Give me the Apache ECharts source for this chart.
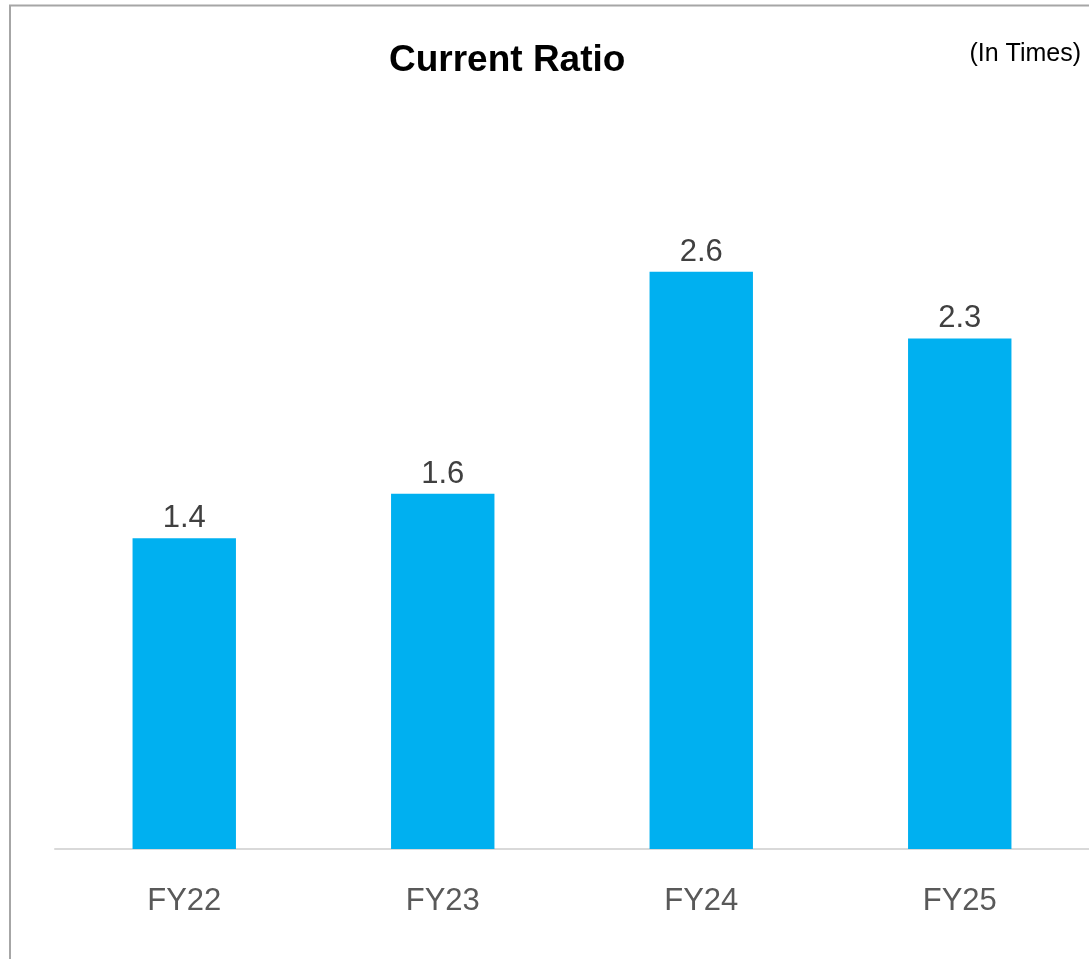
<!DOCTYPE html>
<html>
<head>
<meta charset="utf-8">
<script src="https://cdn.jsdelivr.net/npm/echarts@6/dist/echarts.min.js"></script>
<style>
  html, body { margin: 0; padding: 0; background: #fff; }
  #chart { width: 1089px; height: 959px; }
</style>
</head>
<body>
<div id="chart"></div>
<script>
// 数据
const years = ['FY22', 'FY23', 'FY24', 'FY25']
const ratios = [1.4, 1.6, 2.6, 2.3]
const titleText = 'Current Ratio'
const unitText = '(In Times)'

const chart = echarts.init(document.getElementById('chart'))
const option = {
  animation: false,
  textStyle: {
    fontFamily: '"Liberation Sans", Arial, sans-serif'
  },
  title: {
    text: titleText,
    left: 389,
    top: 42,
    padding: 0,
    textStyle: {
      color: '#000',
      fontWeight: 'bold',
      fontSize: 37,
      fontFamily: '"Liberation Sans", Arial, sans-serif'
    }
  },
  graphic: [
    {
      // 外框
      type: 'polyline',
      shape: { points: [[10, 959], [10, 5.5], [1089, 5.5]] },
      style: { stroke: '#a6a6a6', lineWidth: 2, fill: null }
    },
    {
      type: 'text',
      right: 8,
      top: 42,
      style: {
        text: unitText,
        fill: '#000',
        fontSize: 25,
        fontFamily: '"Liberation Sans", Arial, sans-serif'
      }
    }
  ],
  grid: {
    left: 55,
    right: 0,
    top: 183,
    bottom: 110
  },
  xAxis: {
    type: 'category',
    data: years,
    axisLine: {
      lineStyle: { color: '#d9d9d9', width: 2 }
    },
    axisTick: { show: false },
    axisLabel: {
      color: '#595959',
      fontSize: 31,
      margin: 37
    }
  },
  yAxis: {
    type: 'value',
    min: 0,
    max: 3,
    show: false,
    splitLine: { show: false }
  },
  series: [
    {
      type: 'bar',
      data: ratios,
      barWidth: '40%',
      itemStyle: { color: '#00b0f0' },
      label: {
        show: true,
        position: 'top',
        distance: 4,
        color: '#404040',
        fontSize: 31,
        formatter: (p) => p.value.toFixed(1)
      }
    }
  ]
}
chart.setOption(option)
</script>
</body>
</html>
